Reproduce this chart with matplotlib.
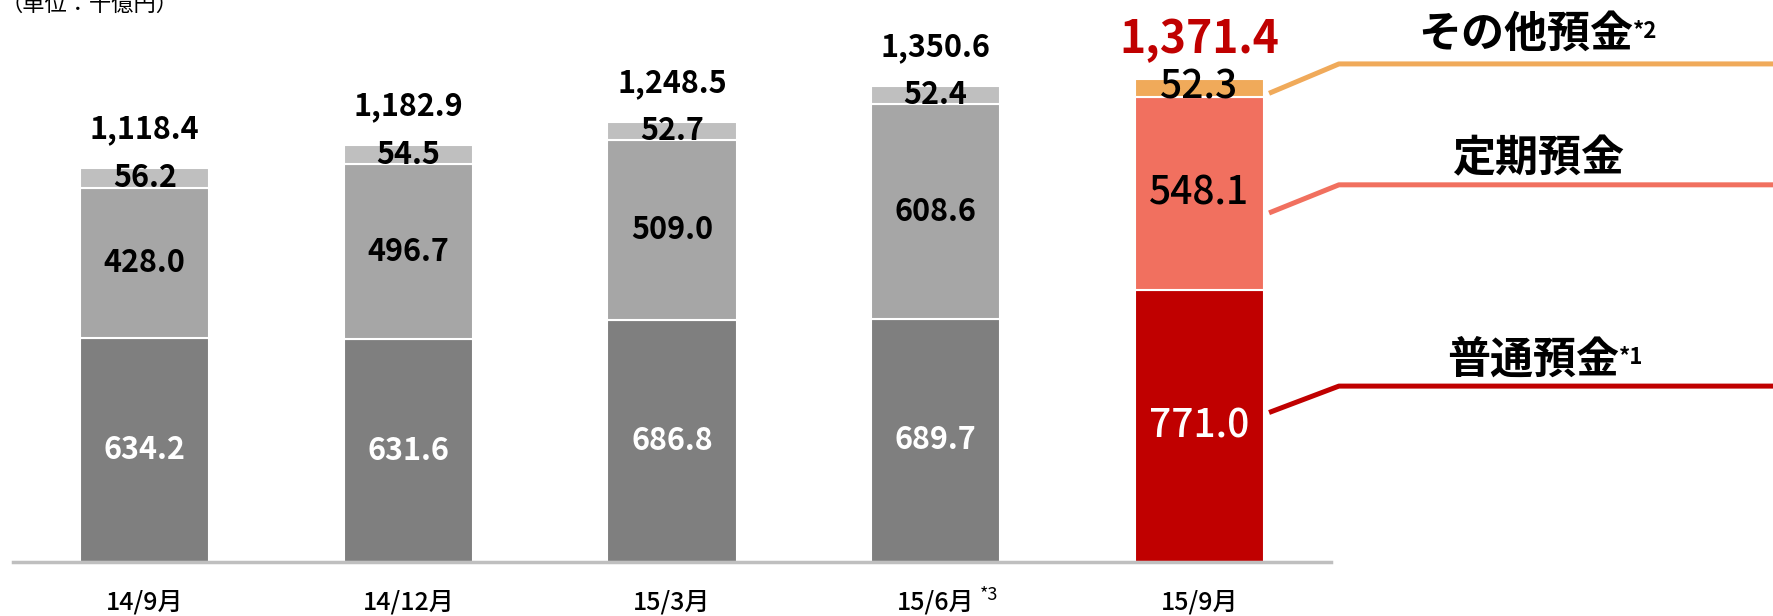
import numpy as np
import matplotlib
matplotlib.use("Agg")
import matplotlib.pyplot as plt

plt.rcParams['font.family'] = ['Noto Sans CJK JP', 'DejaVu Sans']

periods = ["14/9月", "14/12月", "15/3月", "15/6月", "15/9月"]
futsu = [634.2, 631.6, 686.8, 689.7, 771.0]      # 普通預金
teiki = [428.0, 496.7, 509.0, 608.6, 548.1]      # 定期預金
sonota = [56.2, 54.5, 52.7, 52.4, 52.3]          # その他預金
totals = ["1,118.4", "1,182.9", "1,248.5", "1,350.6", "1,371.4"]
legend_names = ["その他預金", "定期預金", "普通預金"]
legend_notes = ["*2", "", "*1"]

gray = ["#7f7f7f", "#a6a6a6", "#bfbfbf"]
hi = ["#c00000", "#f1705f", "#f0aa5a"]

W, H = 1773, 616
fig = plt.figure(figsize=(W / 100, H / 100), dpi=100)
ax = fig.add_axes([13 / W, 54 / H, 1318 / W, 562 / H])

x = np.arange(len(periods))
width = 0.49
ymax = 562 / 0.3525

layers = [futsu, teiki, sonota]
bottom = np.zeros(len(x))
for k, vals in enumerate(layers):
    vals = np.array(vals)
    cols = [gray[k]] * (len(x) - 1) + [hi[k]]
    ax.bar(x, vals, width, bottom=bottom, color=cols, edgecolor="white", linewidth=1.5)
    for i, v in enumerate(vals):
        last = i == len(x) - 1
        tc = "white" if k == 0 else "black"
        ax.text(x[i], bottom[i] + v / 2, f"{v:.1f}", ha="center", va="center",
                color=tc, fontsize=28 if last else 22,
                fontweight="medium" if last else "bold")
    bottom = bottom + vals

for i, t in enumerate(totals):
    last = i == len(x) - 1
    ax.annotate(t, (x[i], bottom[i]), xytext=(0, 28), textcoords="offset points",
                ha="center", va="center", fontweight="bold",
                fontsize=32 if last else 22, color="#c00000" if last else "black")

ax.set_xlim(-0.5, 4.5)
ax.set_ylim(0, ymax)
ax.set_xticks(x)
ax.set_xticklabels(periods, fontsize=18, fontweight="medium")
ax.tick_params(axis="x", length=0, pad=20)
ax.set_yticks([])
for s in ["top", "right", "left"]:
    ax.spines[s].set_visible(False)
ax.spines["bottom"].set_color("#bfbfbf")
ax.spines["bottom"].set_linewidth(2.5)

# leader lines from the 15/9 bar to the category names
last = len(x) - 1
seg_lo = [0, futsu[last], futsu[last] + teiki[last]]
seg_v = [futsu[last], teiki[last], sonota[last]]
frac = [0.55, 0.4, 0.2]
line_y = [499, 1070, 1413]
elbow_x = 4.53
bar_r = x[last] + width / 2 + 0.02
for k in range(3):
    y0 = seg_lo[k] + seg_v[k] * frac[k]
    ax.plot([bar_r, elbow_x, 6.4], [y0, line_y[k], line_y[k]], color=hi[k],
            lw=3.6, clip_on=False, solid_capstyle="butt")

name_y = [1498, 1146, 573]
name_x = [4.83, 4.96, 4.94]
fig.canvas.draw()
r = fig.canvas.get_renderer()
for name, note, nx, ny in zip(legend_names, legend_notes, name_x, name_y):
    t = ax.text(nx, ny, name, ha="left", va="center", fontsize=31, fontweight="bold",
                clip_on=False)
    if note:
        bb = t.get_window_extent(r)
        fig.text(bb.x1 / W, (bb.y1 - 8) / H, note, ha="left", va="top",
                 fontsize=16, fontweight="bold")

# footnote mark on 15/6
ax.annotate("*3", (x[3], 0), xytext=(32, -24), textcoords="offset points",
            ha="left", va="center", fontsize=13, annotation_clip=False)

fig.text(0 / W, 1 - 4 / H, "（単位：千億円）", ha="left", va="center", fontsize=16)

fig.savefig("out.png", dpi=100)
